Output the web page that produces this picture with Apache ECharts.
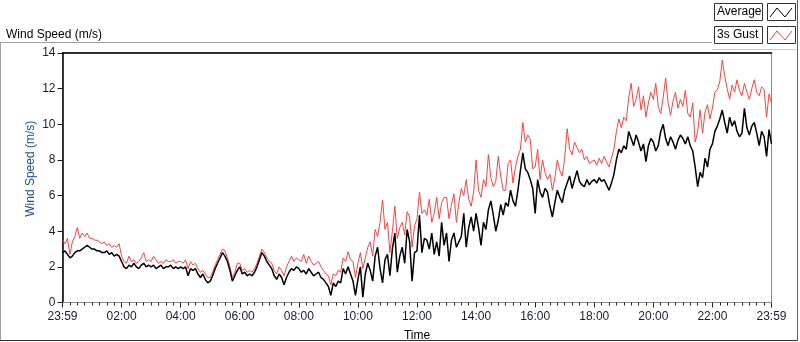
<html>
<head>
<meta charset="utf-8" />
<title>Wind Speed (m/s)</title>
<script src="https://cdnjs.cloudflare.com/ajax/libs/echarts/6.0.0/echarts.min.js"></script>
<style>
  html, body { margin: 0; padding: 0; background: #fff; }
  #chart { width: 800px; height: 342px; }
</style>
</head>
<body>
<div id="chart"></div>
<script type="text/javascript">
// one reading every 5 minutes, starting at 23:59 (minute 0) and ending 23:59 next day (minute 1440)
var average = [
  2.8, 2.9, 2.7, 2.5, 2.6, 2.8, 2.9, 2.9, 3.0, 3.1, 3.2, 3.1,
  3.0, 3.0, 2.9, 2.9, 2.8, 2.8, 2.9, 2.7, 2.8, 2.6, 2.7, 2.6,
  2.3, 2.0, 1.9, 2.1, 2.0, 2.2, 2.0, 1.9, 2.1, 2.2, 2.0, 2.1,
  2.0, 2.1, 1.9, 2.0, 2.1, 1.9, 2.0, 2.0, 2.1, 1.9, 2.0, 1.9,
  2.0, 1.9, 2.0, 1.5, 1.9, 1.8, 1.9, 1.6, 1.4, 1.6, 1.3, 1.1,
  1.2, 1.5, 1.9, 2.2, 2.5, 2.8, 2.6, 2.3, 1.8, 1.2, 1.5, 1.8,
  2.0, 1.6, 1.7, 1.5, 1.6, 1.5, 1.7, 2.0, 2.4, 2.8, 2.6, 2.3,
  2.1, 1.9, 1.5, 1.3, 1.6, 1.4, 1.0, 1.4, 1.7, 1.9, 1.8, 2.0,
  1.9, 1.7, 1.8, 1.6, 1.9, 1.7, 1.5, 1.6, 1.7, 1.4, 1.3, 1.1,
  0.9, 0.4, 1.1, 0.9, 1.2, 1.1, 1.9, 1.6, 2.0, 1.6, 1.2, 0.4,
  1.3, 2.0, 0.3, 1.6, 2.2, 1.8, 1.2, 2.6, 3.1, 1.9, 1.1, 2.4,
  2.7, 1.5, 3.0, 3.9, 1.7, 2.6, 3.1, 2.2, 4.1, 3.4, 1.2, 2.8,
  2.9, 4.9, 2.8, 3.6, 3.5, 3.0, 3.9, 2.7, 3.4, 2.6, 4.5, 3.2,
  3.9, 2.3, 3.5, 3.9, 3.1, 3.4, 3.7, 5.0, 3.1, 4.2, 4.8, 4.0,
  5.0, 4.2, 3.2, 4.5, 4.1, 5.2, 5.7, 4.9, 4.0, 4.6, 5.5, 4.9,
  5.6, 5.4, 6.3, 5.7, 5.4, 6.3, 7.4, 8.4, 7.5, 7.3, 6.9, 6.4,
  5.0, 6.9, 6.2, 5.9, 6.4, 6.2, 5.4, 4.8, 5.6, 6.3, 5.9, 5.6,
  6.3, 6.7, 7.1, 6.4, 6.9, 7.4, 6.8, 6.6, 6.5, 6.9, 6.6, 6.8,
  6.9, 6.7, 7.0, 6.8, 6.9, 6.6, 6.3, 6.7, 7.2, 8.0, 8.6, 8.4,
  8.8, 8.6, 9.6, 9.2, 8.8, 9.4, 9.0, 8.5, 8.9, 7.9, 8.8, 9.2,
  9.0, 8.5, 8.8, 9.6, 10.0, 9.2, 8.8, 9.3, 9.0, 8.6, 9.1, 9.4,
  9.2, 8.9, 9.3, 8.8, 8.5, 7.6, 6.5, 7.3, 7.0, 8.1, 7.6, 8.6,
  8.9, 9.6, 9.9, 10.3, 10.8, 10.1, 9.5, 10.4, 9.9, 10.2, 9.6, 9.3,
  9.5, 10.9, 9.8, 9.4, 9.9, 10.1, 9.5, 8.8, 9.6, 9.3, 8.2, 9.7, 8.9
];
var gust = [
  3.5, 3.3, 3.6, 2.7, 3.4, 3.7, 4.2, 3.6, 3.9, 3.7, 3.9, 3.6,
  3.6, 3.5, 3.5, 3.4, 3.3, 3.4, 3.2, 3.3, 3.1, 3.2, 3.1, 3.3,
  2.6, 2.3, 2.2, 2.6, 2.3, 2.4, 2.2, 2.3, 2.5, 2.8, 2.3, 2.4,
  2.3, 2.6, 2.4, 2.2, 2.3, 2.2, 2.4, 2.3, 2.3, 2.4, 2.2, 2.3,
  2.3, 2.2, 2.4, 1.9, 2.3, 2.1, 2.2, 1.9, 1.7, 1.8, 1.6, 1.4,
  1.4, 1.7, 2.1, 2.4, 2.7, 3.0, 2.9, 2.5, 2.0, 1.4, 1.7, 2.2,
  2.2, 1.8, 1.9, 1.7, 1.8, 1.7, 1.9, 2.2, 2.6, 3.0, 2.8, 2.5,
  2.3, 2.2, 1.8, 1.6, 2.0, 1.8, 1.5, 2.0, 2.3, 2.6, 2.3, 2.5,
  2.4, 2.3, 2.7, 2.2, 2.6, 2.3, 2.1, 2.2, 2.3, 2.0, 1.8, 1.6,
  1.5, 1.0, 1.6, 1.5, 1.8, 1.7, 2.5, 2.3, 2.85, 2.4, 2.3, 1.4,
  2.2, 2.8, 1.9, 2.5, 3.1, 3.4, 2.6, 4.1, 3.7, 4.5, 5.75, 4.1,
  4.5, 2.8, 4.0, 5.4, 3.6, 4.2, 4.5, 3.8, 5.1, 4.8, 3.1, 4.3,
  4.7, 6.2, 5.0, 5.2, 4.9, 5.8, 4.5, 5.0, 5.9, 4.7, 5.6, 5.9,
  5.9, 4.7, 5.5, 6.1, 4.5, 5.6, 6.4, 6.0, 6.9, 5.8, 5.4, 6.2,
  8.0, 6.3, 5.9, 6.9, 6.5, 8.3, 7.0, 6.5, 6.8, 8.2, 7.1, 6.3,
  6.3, 7.8, 8.0, 6.7, 7.6, 8.2, 8.6, 10.1, 9.0, 9.4, 9.15, 7.5,
  7.6, 8.6, 6.9, 8.0, 7.3, 6.9, 7.2, 6.3, 7.0, 8.0, 7.4, 7.1,
  8.1, 9.75, 8.6, 8.3, 9.0, 8.7, 8.4, 8.6, 8.0, 8.2, 7.8, 7.9,
  8.0, 7.7, 8.1, 7.8, 8.2, 7.9, 7.6, 8.1, 8.6, 9.6, 10.3, 9.8,
  10.4, 10.2, 11.5, 12.3, 11.0, 11.4, 12.1, 10.8, 11.6, 10.4, 11.2, 11.8,
  11.4, 12.3, 11.0, 10.6, 11.5, 12.6, 11.2, 10.5, 11.3, 11.8, 10.9, 11.4,
  11.0, 11.9, 10.6, 10.4, 11.2, 9.0, 9.6, 10.8, 9.5, 10.7, 11.1, 10.3,
  10.9, 11.8, 11.95, 12.4, 13.6, 12.7, 12.0, 11.4, 12.2, 11.8, 12.5, 11.9,
  11.6, 12.3, 11.8, 11.4, 12.0, 12.5, 11.8, 11.6, 12.1, 11.95, 10.4, 11.7, 11.2
];
var sampleMinutes = 5;
var timeLabels = ['23:59', '02:00', '04:00', '06:00', '08:00', '10:00', '12:00',
                  '14:00', '16:00', '18:00', '20:00', '22:00', '23:59'];
var yTicks = [0, 2, 4, 6, 8, 10, 12, 14];

var chartDom = document.getElementById('chart');
var myChart = echarts.init(chartDom, null, { renderer: 'canvas' });
var font = 'Liberation Sans';

var avgData = average.map(function (v, i) { return [i * sampleMinutes, v]; });
var gustData = gust.map(function (v, i) { return [i * sampleMinutes, v]; });

var option = {
  animation: false,
  backgroundColor: '#ffffff',
  textStyle: { fontFamily: font },
  title: {
    text: 'Wind Speed (m/s)',
    left: 1, top: 24,
    textStyle: { fontSize: 12, fontWeight: 'normal', color: '#000', fontFamily: font }
  },
  grid: {
    left: 62.5, right: 28.5, top: 53, bottom: 39.5,
    outerBoundsMode: 'none', containLabel: false,
    show: true, borderColor: '#8a8a8a', borderWidth: 1, backgroundColor: '#fff'
  },
  xAxis: [{
    type: 'value',
    min: 0, max: 1440, interval: 120,
    name: 'Time', nameLocation: 'middle', nameGap: 27, nameMoveOverlap: false,
    nameTextStyle: { color: '#000', fontSize: 12, fontFamily: font },
    axisLine: { show: true, lineStyle: { color: '#8a8a8a', width: 1 } },
    axisTick: { show: true, length: 5, lineStyle: { color: '#222' } },
    minorTick: { show: true, splitNumber: 8, length: 3, lineStyle: { color: '#222' } },
    splitLine: { show: false },
    axisLabel: {
      color: '#1a1a33', fontSize: 12, margin: 8, fontFamily: font,
      showMinLabel: true, showMaxLabel: true,
      formatter: function (v) { return timeLabels[Math.round(v / 120)]; }
    }
  }, {
    type: 'value', position: 'top', min: 0, max: 1440,
    axisLine: { show: true, onZero: false, lineStyle: { color: '#000', width: 1.5 } },
    axisTick: { show: false }, axisLabel: { show: false }, splitLine: { show: false }
  }],
  yAxis: {
    type: 'value',
    min: yTicks[0], max: yTicks[yTicks.length - 1], interval: 2,
    name: 'Wind Speed (m/s)', nameLocation: 'middle', nameGap: 26, nameMoveOverlap: false,
    nameTextStyle: { color: '#1d4f91', fontSize: 12, fontFamily: font, padding: [0, 0, 0, 18] },
    axisLine: { show: true, lineStyle: { color: '#000', width: 1.5 } },
    axisTick: { show: true, length: 5, lineStyle: { color: '#222' } },
    splitLine: { show: false },
    axisLabel: { color: '#1a1a33', fontSize: 12, margin: 7, fontFamily: font }
  },
  series: [{
    name: '3s Gust', type: 'line', data: gustData,
    showSymbol: false, symbol: 'none',
    lineStyle: { color: '#ff4040', width: 1 }, z: 2
  }, {
    name: 'Average', type: 'line', data: avgData,
    showSymbol: false, symbol: 'none',
    lineStyle: { color: '#000000', width: 1.5 }, z: 3
  }],
  graphic: [
    // outer frame
    { type: 'line', shape: { x1: 0, y1: 42.5, x2: 712, y2: 42.5 }, style: { stroke: '#a0a0a0', lineWidth: 1 } },
    { type: 'line', shape: { x1: 0.5, y1: 42, x2: 0.5, y2: 341 }, style: { stroke: '#a0a0a0', lineWidth: 1 } },
    { type: 'line', shape: { x1: 0, y1: 340.5, x2: 798, y2: 340.5 }, style: { stroke: '#303030', lineWidth: 1 } },
    { type: 'line', shape: { x1: 797.5, y1: 0, x2: 797.5, y2: 341 }, style: { stroke: '#606060', lineWidth: 1 } },
    { type: 'line', shape: { x1: 712, y1: 49.5, x2: 797, y2: 49.5 }, style: { stroke: '#c8c8c8', lineWidth: 1 } },
    // legend: Average
    { type: 'rect', shape: { x: 714.5, y: 3.5, width: 48, height: 17 }, style: { fill: '#fff', stroke: '#333', lineWidth: 1 } },
    { type: 'text', x: 717, y: 12, style: { text: 'Average', fontSize: 12, fontFamily: font, fill: '#000', verticalAlign: 'middle' } },
    { type: 'rect', shape: { x: 767.5, y: 3.5, width: 28, height: 17 }, style: { fill: '#fff', stroke: '#333', lineWidth: 1 } },
    { type: 'polyline', shape: { points: [[770, 17], [777, 8], [785, 17], [792, 8]] }, style: { stroke: '#000', lineWidth: 1, fill: null } },
    // legend: 3s Gust
    { type: 'rect', shape: { x: 714.5, y: 26.5, width: 48, height: 17 }, style: { fill: '#fff', stroke: '#333', lineWidth: 1 } },
    { type: 'text', x: 717, y: 35, style: { text: '3s Gust', fontSize: 12, fontFamily: font, fill: '#000', verticalAlign: 'middle' } },
    { type: 'rect', shape: { x: 767.5, y: 26.5, width: 28, height: 17 }, style: { fill: '#fff', stroke: '#333', lineWidth: 1 } },
    { type: 'polyline', shape: { points: [[770, 40], [777, 31], [785, 40], [792, 31]] }, style: { stroke: '#ff4040', lineWidth: 1, fill: null } }
  ]
};
option && myChart.setOption(option);
</script>
</body>
</html>
